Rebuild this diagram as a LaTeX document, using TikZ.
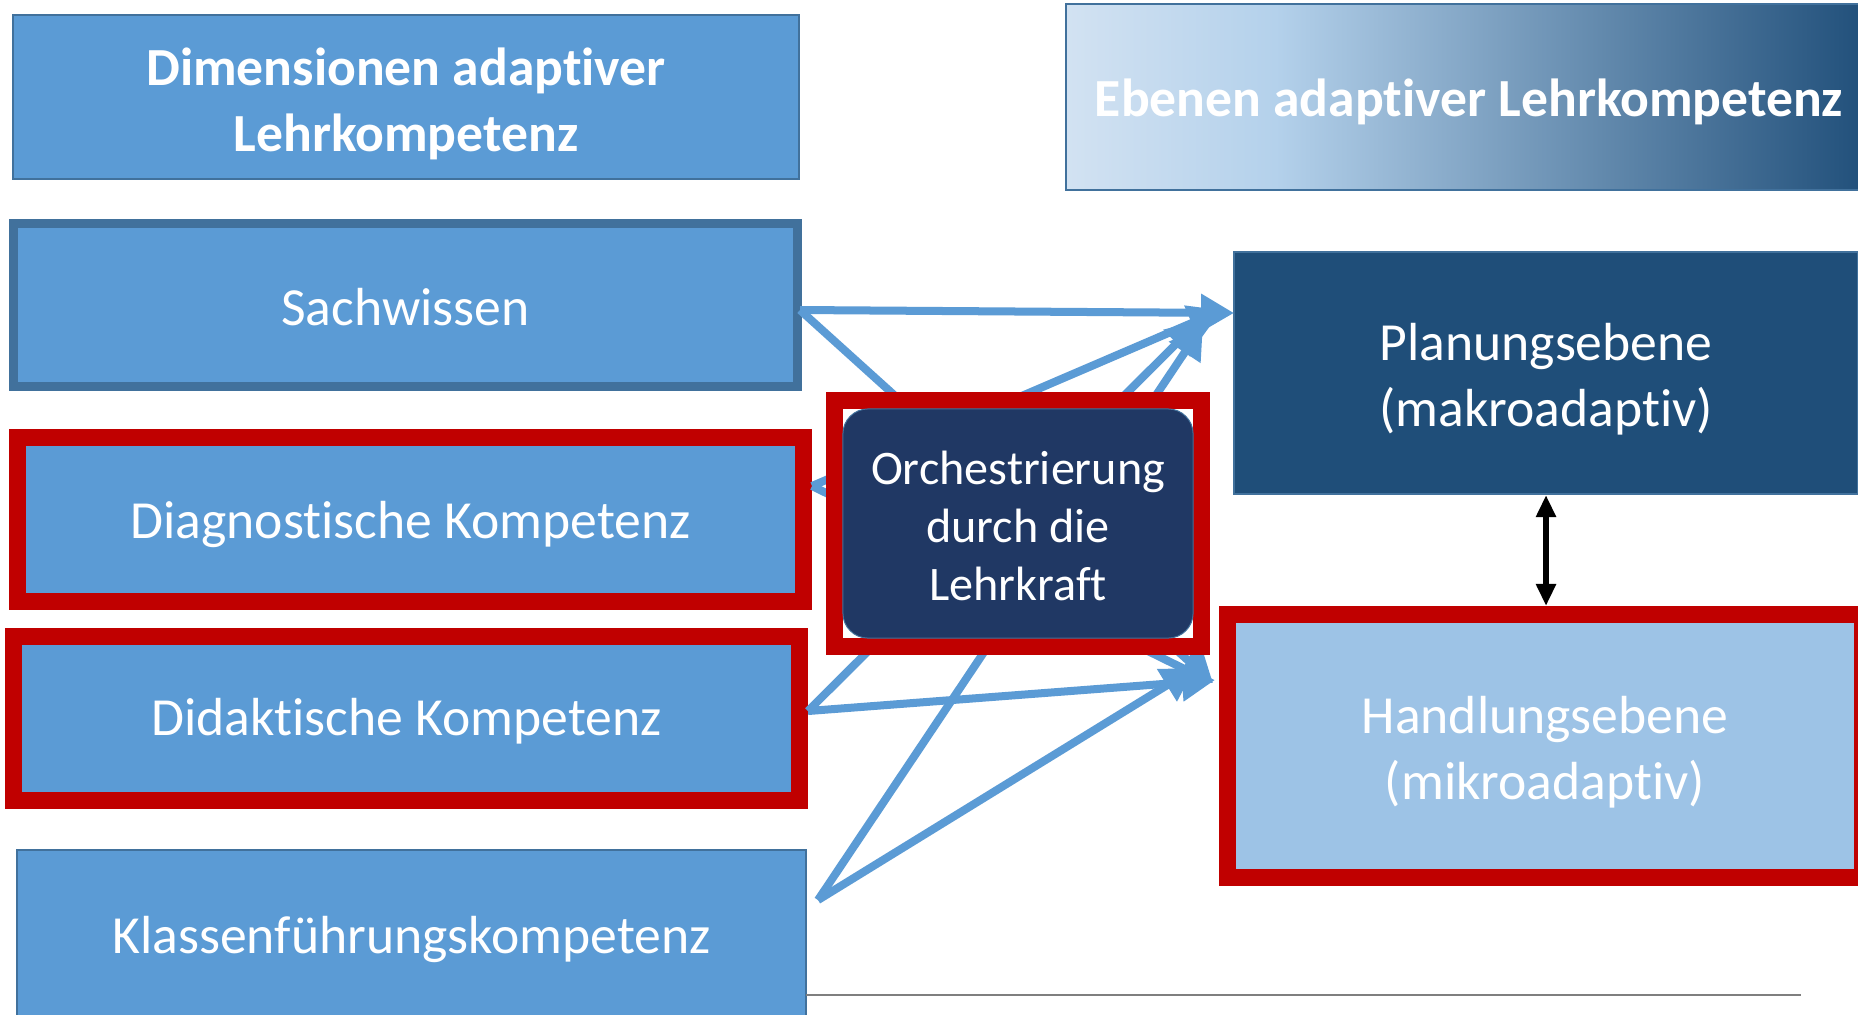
\documentclass[tikz,border=0pt]{standalone}
\usepackage{fontspec}
\setmainfont{Carlito}[Ligatures={NoCommon}]
\usetikzlibrary{arrows.meta,calc}
\definecolor{boxblue}{HTML}{5B9BD5}
\definecolor{edgeblue}{HTML}{41719C}
\definecolor{redframe}{HTML}{C00000}
\definecolor{navy}{HTML}{203864}
\definecolor{planblue}{HTML}{1F4E79}
\definecolor{lightblue}{HTML}{9DC3E6}
\definecolor{arrowblue}{HTML}{5B9BD5}
\definecolor{grayline}{HTML}{7F7F7F}
\definecolor{gA}{HTML}{D2E2F2}
\definecolor{gB}{HTML}{B4D1EB}
\definecolor{gC}{HTML}{1F4E79}
\pgfdeclarehorizontalshading{ebenenshade}{100bp}{color(0bp)=(gA); color(25bp)=(gA); color(38bp)=(gB); color(75bp)=(gC); color(100bp)=(gC)}
% pushes the text of a node down by half of #1
\newcommand\txtdown[1]{\rule{0pt}{\dimexpr\fontcharht\font`l+#1\relax}}
\tikzset{
  txt/.style={text=white, font=\fontsize{15.25pt}{18.7pt}\selectfont, align=center, inner sep=0pt},
  dimbox/.style={txt, fill=boxblue, draw=edgeblue, line width=0.02cm},
  redbox/.style={draw=redframe, line width=0.17cm},
  bluearrow/.style={draw=arrowblue, line width=0.08cm, -{Triangle[length=0.33cm,width=0.36cm]}},
  blackarrow/.style={draw=black, line width=0.055cm, {Triangle[length=0.22cm,width=0.19cm]}-{Triangle[length=0.22cm,width=0.19cm]}}
}
\begin{document}
\begin{tikzpicture}[x=0.01cm,y=-0.01cm]
\clip (0,0) rectangle (1858,1014);
\fill[white] (0,0) rectangle (1858,1014);

% left column
\node[dimbox, minimum width=7.86cm, minimum height=1.64cm] (title) at (406,97)
  {\bfseries\txtdown{0.14cm}Dimensionen adaptiver\\\bfseries Lehrkompetenz};
\node[dimbox, line width=0.09cm, minimum width=7.84cm, minimum height=1.63cm] (sach) at (405.5,305) {\txtdown{0.05cm}Sachwissen};
\node[dimbox, redbox, minimum width=7.86cm, minimum height=1.64cm] (diag) at (410.5,519.5) {\txtdown{0.10cm}Diagnostische Kompetenz};
\node[dimbox, redbox, minimum width=7.86cm, minimum height=1.64cm] (didak) at (406.5,718.5) {\txtdown{0.05cm}Didaktische Kompetenz};
\node[dimbox, minimum width=7.89cm, minimum height=1.72cm] (klass) at (411.5,936) {\txtdown{0.07cm}Klassenführungskompetenz};

% right column
\node[txt, shading=ebenenshade, draw=edgeblue, line width=0.02cm, minimum width=8.06cm, minimum height=1.86cm] (ebenen) at (1469,97)
  {\bfseries\txtdown{0.10cm}Ebenen adaptiver Lehrkompetenz};
\node[txt, fill=planblue, draw=edgeblue, line width=0.02cm, minimum width=6.24cm, minimum height=2.42cm] (plan) at (1546,373)
  {\txtdown{0.12cm}Planungsebene\\(makroadaptiv)};
\node[txt, fill=lightblue, redbox, minimum width=6.35cm, minimum height=2.63cm] (hand) at (1545,746)
  {\txtdown{0.12cm}Handlungsebene\\(mikroadaptiv)};

\draw[blackarrow] (plan.south -| 1546,0) -- (hand.north -| 1546,0);

% connector end points
\coordinate (sS) at (800,310);
\coordinate (sD) at (812,486);
\coordinate (sDi) at (808,711);
\coordinate (sK) at (818,900);
\coordinate (tSP) at (1234,313);
\coordinate (tDP) at (1222,310);
\coordinate (tDiP) at (1200,320);
\coordinate (tKP) at (1203,325);
\coordinate (tSH) at (1213,683);
\coordinate (tDH) at (1213,683);
\coordinate (tDiH) at (1215,680);
\coordinate (tKH) at (1195,668);

\draw[bluearrow] (sS) -- (tSP);
\draw[bluearrow] (sS) -- (tSH);
\draw[bluearrow] (sD) -- (tDP);
\draw[bluearrow] (sD) -- (tDH);
\draw[bluearrow] (sDi) -- (tDiP);
\draw[bluearrow] (sDi) -- (tDiH);
\draw[bluearrow] (sK) -- (tKP);
\draw[bluearrow] (sK) -- (tKH);

% orchestration box
\node[fill=white, redbox, minimum width=3.67cm, minimum height=2.46cm] (orchframe) at (1018,523.5) {};
\node[txt, font=\fontsize{13.7pt}{16.6pt}\selectfont, fill=navy, draw=edgeblue, line width=0.01cm, rounded corners=0.25cm,
      minimum width=3.50cm, minimum height=2.29cm] (orch) at (1018,523.5)
  {\txtdown{0.05cm}Orchestrierung\\durch die\\Lehrkraft};

% bottom rule
\coordinate (g1) at (806,995);
\coordinate (g2) at (1801,995);
\draw[grayline, line width=0.02cm] (g1) -- (g2);
\end{tikzpicture}
\end{document}
